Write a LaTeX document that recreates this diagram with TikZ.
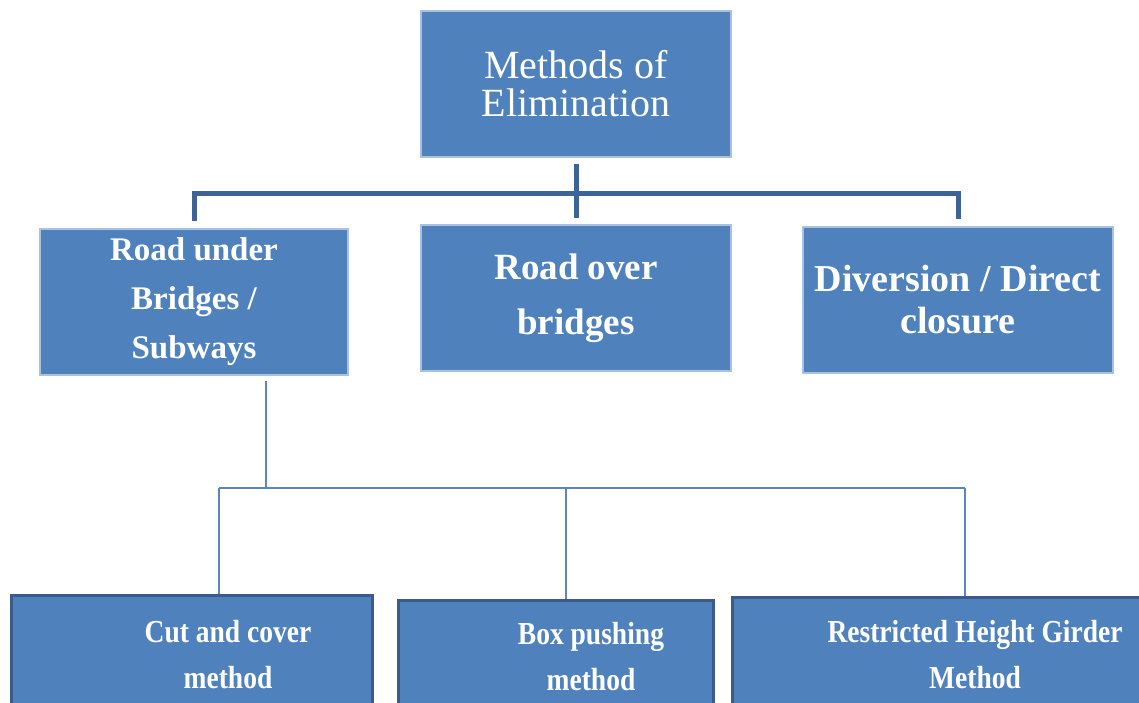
\documentclass[tikz,border=0pt]{standalone}
\usepackage{fontspec}
\setmainfont{Liberation Serif}
\newfontfamily\condfont[FakeStretch=0.86]{Liberation Serif}
\usepackage{tikz}
\usetikzlibrary{positioning, calc}
\definecolor{BoxFill}{HTML}{4F81BD}
\definecolor{BoxEdge}{HTML}{A9C2E0}
\definecolor{BoxLine}{HTML}{3B5B8A}
\definecolor{BusLine}{HTML}{3C6496}
\definecolor{BranchLine}{HTML}{5F84BC}

\begin{document}
\begin{tikzpicture}[x=1pt, y=-1pt,
  head/.style={rectangle, fill=BoxFill, draw=BoxEdge, line width=2pt,
               minimum width=310pt, minimum height=146pt, align=center,
               text=white, font=\fontsize{40}{38}\selectfont},
  kind/.style={rectangle, fill=BoxFill, draw=BoxEdge, line width=2pt,
               minimum width=310pt, minimum height=146pt, align=center,
               text=white},
  leaf/.style={rectangle, fill=BoxFill, draw=BoxLine, line width=3pt,
               minimum height=150pt, anchor=north west},
  leaftxt/.style={align=center, text=white,
                  font=\condfont\bfseries\fontsize{32}{46}\selectfont},
  bus/.style={line width=5pt, color=BusLine},
  branch/.style={line width=1.6pt, color=BranchLine}
]
\useasboundingbox (0,0) rectangle (1139,702);
\clip (0,0) rectangle (1139,702);

%% ---- Top: root box ----
\node[head] (root) at (576,84) {Methods of\\Elimination};

%% ---- Row 2: the three kinds ----
\node[kind, minimum width=308pt, font=\bfseries\fontsize{33}{49}\selectfont]
     (under) at (194,302) {Road under\\Bridges /\\Subways};
\node[kind, font=\bfseries\fontsize{37}{55}\selectfont]
     (over) at (576,298) {Road over\\bridges};
\node[kind, font=\bfseries\fontsize{38}{42}\selectfont]
     (divert) at (958,300) {Diversion / Direct\\closure};

%% ---- Row 3: methods for road under bridges ----
\node[leaf, minimum width=361pt] (cut)    at (10,594)  {};
\node[leaf, minimum width=315pt] (push)   at (397,599) {};
\node[leaf, minimum width=420pt] (girder) at (731,596) {};
\node[leaftxt] (cuttxt)    at (228,655) {Cut and cover\\method};
\node[leaftxt] (pushtxt)   at (591,657) {Box pushing\\method};
\node[leaftxt] (girdertxt) at (975,655) {Restricted Height Girder\\Method};

%% ---- Root to row 2 ----
\coordinate (split) at (576,193);
\draw[bus] ([yshift=-6pt]root.south) -- ([yshift=6pt]over.north);
\draw[bus] ([yshift=7pt]under.north) |- (split) -| ([yshift=7pt]divert.north);

%% ---- Road under to row 3 ----
\coordinate (drop)  at ([xshift=72pt,yshift=-5pt]under.south);
\coordinate (joinL) at (219,488);
\coordinate (joinM) at (566,488);
\coordinate (joinR) at (965,488);
\draw[branch] (drop) -- (drop |- joinL);
\draw[branch] (joinL) -- (joinR);
\draw[branch] (joinL) -- (joinL |- cut.north);
\draw[branch] (joinM) -- (joinM |- push.north);
\draw[branch] (joinR) -- (joinR |- girder.north);

\end{tikzpicture}
\end{document}
